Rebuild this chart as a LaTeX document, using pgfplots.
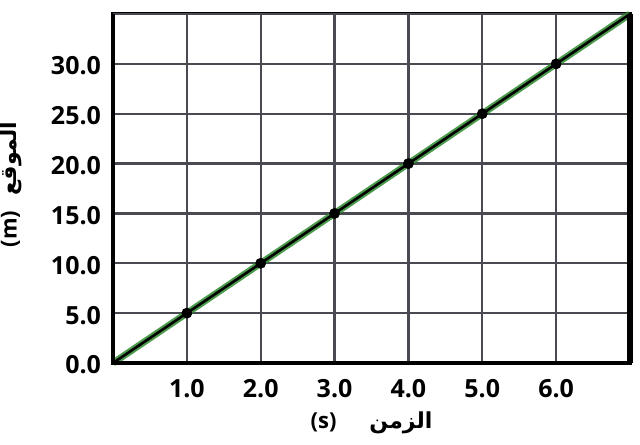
\documentclass[border=0pt]{standalone}
\usepackage{fontspec}
\setmainfont{Open Sans}
\newfontfamily\arabicfont[Script=Arabic]{DejaVu Sans}
\TeXXeTstate=1
\usepackage{pgfplots}
\pgfplotsset{compat=1.18}
\definecolor{gridgray}{HTML}{4A4A52}
\definecolor{lgreen}{HTML}{2E8B2E}
\begin{document}
\begin{tikzpicture}
\begin{axis}[
  scale only axis,
  width=258.5pt, height=174.5pt,
  xmin=0, xmax=7, ymin=0, ymax=35,
  xtick={1,2,3,4,5,6},
  ytick={0,5,10,15,20,25,30},
  extra x ticks={7}, extra x tick labels={},
  extra y ticks={35}, extra y tick labels={},
  extra tick style={grid=major},
  xticklabel={\pgfmathprintnumber[fixed,fixed zerofill,precision=1]{\tick}},
  yticklabel={\pgfmathprintnumber[fixed,fixed zerofill,precision=1]{\tick}},
  /pgf/number format/assume math mode=true,
  tick label style={font=\bfseries\fontsize{12.5}{14}\selectfont},
  xticklabel style={yshift=-4.5pt},
  yticklabel style={xshift=-2.5pt, yshift=-1pt},
  major tick length=0pt,
  grid=major,
  major grid style={gridgray, line width=1.1pt},
  axis line style={black, line width=1.5pt},
  clip=false,
  xlabel={\bfseries\fontsize{11}{12}\selectfont (s)\hspace{1.5em}{\arabicfont\beginR الزمن\endR}},
  ylabel={\bfseries\fontsize{11}{12}\selectfont (m)\hspace{0.7em}{\arabicfont\beginR الموقع\endR}},
  xlabel style={at={(0.5,0)}, anchor=north, yshift=-21pt},
  ylabel style={at={(0,0.5)}, anchor=south, yshift=42pt, xshift=2pt},
]
\addplot[lgreen, line width=3.4pt, opacity=0.85] coordinates {(0,0) (7,35)};
\addplot[black, line width=1.3pt] coordinates {(0,0) (7,35)};
\addplot[only marks, mark=*, mark size=2.5pt, black] coordinates {
(1,5) (2,10) (3,15) (4,20) (5,25) (6,30)};
\draw[black, line width=3pt] (rel axis cs:1,0) -- (rel axis cs:1,1);
\draw[black, line width=1.8pt] (rel axis cs:0,0) -- (rel axis cs:0,1);
\draw[black, line width=1.8pt] (rel axis cs:0,0) -- (rel axis cs:1,0);
\end{axis}
\path (current axis.south west) ++(-56.5pt,-40.5pt) coordinate (bl);
\path (current axis.north east) ++(5pt,7pt) coordinate (tr);
\pgfresetboundingbox
\useasboundingbox (bl) rectangle (tr);
\end{tikzpicture}
\end{document}
